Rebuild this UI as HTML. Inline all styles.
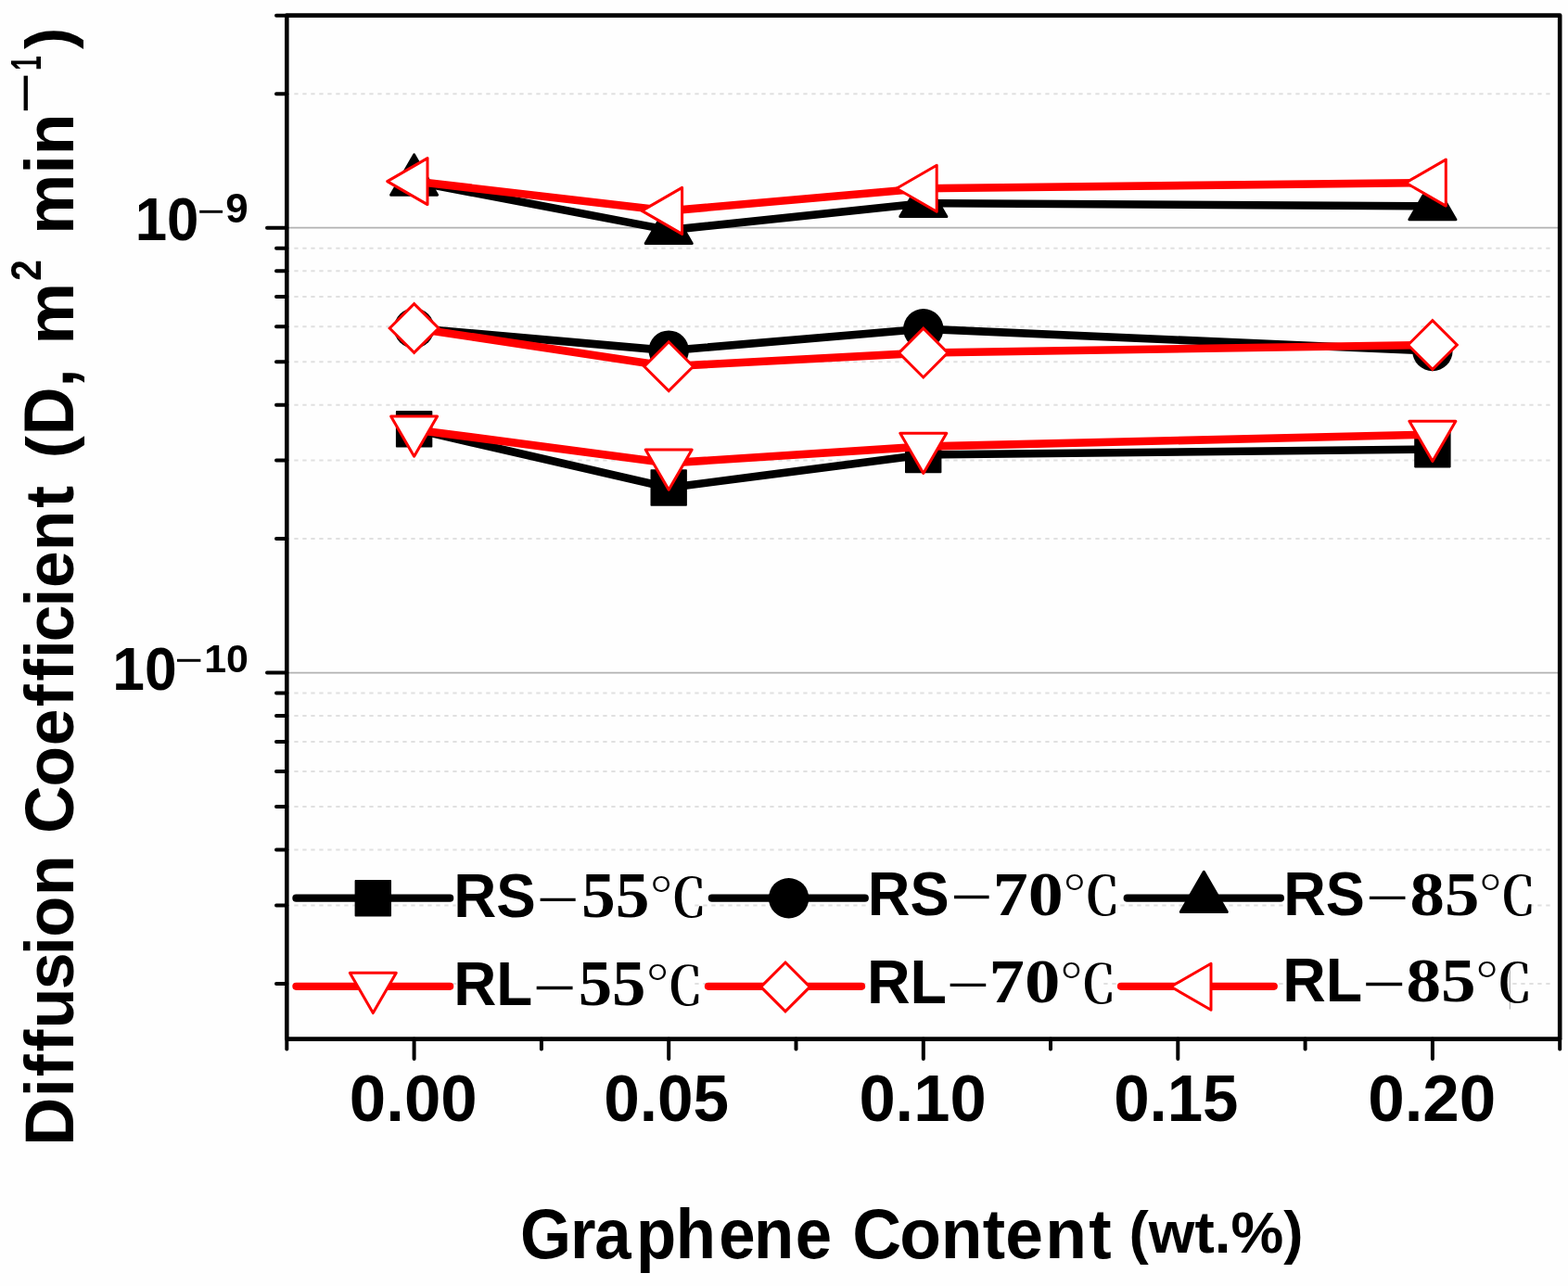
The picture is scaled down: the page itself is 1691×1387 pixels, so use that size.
<!DOCTYPE html>
<html lang="en"><head><meta charset="utf-8"><title>Diffusion Coefficient vs Graphene Content</title>
<style>
html,body{margin:0;padding:0;background:#fff;}
body{width:1691px;height:1387px;overflow:hidden;}
svg{display:block;}
text{font-family:"Liberation Sans",sans-serif;font-weight:bold;fill:#000;}
</style></head><body>
<svg width="1691" height="1387" viewBox="0 0 1691 1387">
<rect x="0" y="0" width="1691" height="1387" fill="#fefefe"/>
<g fill="none">
<line x1="309.3" x2="1682.2" y1="245.7" y2="245.7" stroke="#b2b2b2" stroke-width="1.7"/>
<line x1="309.3" x2="1682.2" y1="725.6" y2="725.6" stroke="#b2b2b2" stroke-width="1.7"/>
<line x1="317.3" x2="1674.7" y1="101.2" y2="101.2" stroke="#e0e0e0" stroke-width="2.0" stroke-dasharray="4.3 4.7"/>
<line x1="317.3" x2="1674.7" y1="581.1" y2="581.1" stroke="#e0e0e0" stroke-width="2.0" stroke-dasharray="4.3 4.7"/>
<line x1="317.3" x2="1674.7" y1="496.6" y2="496.6" stroke="#e0e0e0" stroke-width="2.0" stroke-dasharray="4.3 4.7"/>
<line x1="317.3" x2="1674.7" y1="436.7" y2="436.7" stroke="#e0e0e0" stroke-width="2.0" stroke-dasharray="4.3 4.7"/>
<line x1="317.3" x2="1674.7" y1="390.2" y2="390.2" stroke="#e0e0e0" stroke-width="2.0" stroke-dasharray="4.3 4.7"/>
<line x1="317.3" x2="1674.7" y1="352.2" y2="352.2" stroke="#e0e0e0" stroke-width="2.0" stroke-dasharray="4.3 4.7"/>
<line x1="317.3" x2="1674.7" y1="320.0" y2="320.0" stroke="#e0e0e0" stroke-width="2.0" stroke-dasharray="4.3 4.7"/>
<line x1="317.3" x2="1674.7" y1="292.2" y2="292.2" stroke="#e0e0e0" stroke-width="2.0" stroke-dasharray="4.3 4.7"/>
<line x1="317.3" x2="1674.7" y1="267.7" y2="267.7" stroke="#e0e0e0" stroke-width="2.0" stroke-dasharray="4.3 4.7"/>
<line x1="317.3" x2="1674.7" y1="1061.0" y2="1061.0" stroke="#e0e0e0" stroke-width="2.0" stroke-dasharray="4.3 4.7"/>
<line x1="317.3" x2="1674.7" y1="976.5" y2="976.5" stroke="#e0e0e0" stroke-width="2.0" stroke-dasharray="4.3 4.7"/>
<line x1="317.3" x2="1674.7" y1="916.6" y2="916.6" stroke="#e0e0e0" stroke-width="2.0" stroke-dasharray="4.3 4.7"/>
<line x1="317.3" x2="1674.7" y1="870.1" y2="870.1" stroke="#e0e0e0" stroke-width="2.0" stroke-dasharray="4.3 4.7"/>
<line x1="317.3" x2="1674.7" y1="832.1" y2="832.1" stroke="#e0e0e0" stroke-width="2.0" stroke-dasharray="4.3 4.7"/>
<line x1="317.3" x2="1674.7" y1="799.9" y2="799.9" stroke="#e0e0e0" stroke-width="2.0" stroke-dasharray="4.3 4.7"/>
<line x1="317.3" x2="1674.7" y1="772.1" y2="772.1" stroke="#e0e0e0" stroke-width="2.0" stroke-dasharray="4.3 4.7"/>
<line x1="317.3" x2="1674.7" y1="747.6" y2="747.6" stroke="#e0e0e0" stroke-width="2.0" stroke-dasharray="4.3 4.7"/>
</g>
<g stroke="#000" fill="none" stroke-linecap="round">
<rect x="309.3" y="16.6" width="1372.9" height="1104.0" stroke-width="4.6" stroke-linejoin="round"/>
<line x1="288.0" x2="309.3" y1="245.7" y2="245.7" stroke-width="4.0"/>
<line x1="288.0" x2="309.3" y1="725.6" y2="725.6" stroke-width="4.0"/>
<line x1="298.0" x2="309.3" y1="16.7" y2="16.7" stroke-width="4.0"/>
<line x1="298.0" x2="309.3" y1="101.2" y2="101.2" stroke-width="4.0"/>
<line x1="298.0" x2="309.3" y1="581.1" y2="581.1" stroke-width="4.0"/>
<line x1="298.0" x2="309.3" y1="496.6" y2="496.6" stroke-width="4.0"/>
<line x1="298.0" x2="309.3" y1="436.7" y2="436.7" stroke-width="4.0"/>
<line x1="298.0" x2="309.3" y1="390.2" y2="390.2" stroke-width="4.0"/>
<line x1="298.0" x2="309.3" y1="352.2" y2="352.2" stroke-width="4.0"/>
<line x1="298.0" x2="309.3" y1="320.0" y2="320.0" stroke-width="4.0"/>
<line x1="298.0" x2="309.3" y1="292.2" y2="292.2" stroke-width="4.0"/>
<line x1="298.0" x2="309.3" y1="267.7" y2="267.7" stroke-width="4.0"/>
<line x1="298.0" x2="309.3" y1="1061.0" y2="1061.0" stroke-width="4.0"/>
<line x1="298.0" x2="309.3" y1="976.5" y2="976.5" stroke-width="4.0"/>
<line x1="298.0" x2="309.3" y1="916.6" y2="916.6" stroke-width="4.0"/>
<line x1="298.0" x2="309.3" y1="870.1" y2="870.1" stroke-width="4.0"/>
<line x1="298.0" x2="309.3" y1="832.1" y2="832.1" stroke-width="4.0"/>
<line x1="298.0" x2="309.3" y1="799.9" y2="799.9" stroke-width="4.0"/>
<line x1="298.0" x2="309.3" y1="772.1" y2="772.1" stroke-width="4.0"/>
<line x1="298.0" x2="309.3" y1="747.6" y2="747.6" stroke-width="4.0"/>
<line x1="446.6" x2="446.6" y1="1120.6" y2="1142.1" stroke-width="4.0"/>
<line x1="721.2" x2="721.2" y1="1120.6" y2="1142.1" stroke-width="4.0"/>
<line x1="995.8" x2="995.8" y1="1120.6" y2="1142.1" stroke-width="4.0"/>
<line x1="1270.3" x2="1270.3" y1="1120.6" y2="1142.1" stroke-width="4.0"/>
<line x1="1544.9" x2="1544.9" y1="1120.6" y2="1142.1" stroke-width="4.0"/>
<line x1="309.3" x2="309.3" y1="1120.6" y2="1131.6" stroke-width="4.0"/>
<line x1="583.9" x2="583.9" y1="1120.6" y2="1131.6" stroke-width="4.0"/>
<line x1="858.5" x2="858.5" y1="1120.6" y2="1131.6" stroke-width="4.0"/>
<line x1="1133.0" x2="1133.0" y1="1120.6" y2="1131.6" stroke-width="4.0"/>
<line x1="1407.6" x2="1407.6" y1="1120.6" y2="1131.6" stroke-width="4.0"/>
<line x1="1682.2" x2="1682.2" y1="1120.6" y2="1131.6" stroke-width="4.0"/>
</g>
<g>
<polyline points="446.6,462.9 721.2,526.0 995.8,490.5 1544.9,484.6" fill="none" stroke="#000" stroke-width="8.6" stroke-linejoin="round" stroke-linecap="round"/>
<rect x="426.9" y="443.1" width="39.4" height="39.5" rx="0.8" fill="#000"/>
<rect x="701.5" y="506.2" width="39.4" height="39.5" rx="0.8" fill="#000"/>
<rect x="976.0" y="470.8" width="39.4" height="39.5" rx="0.8" fill="#000"/>
<rect x="1525.2" y="464.9" width="39.4" height="39.5" rx="0.8" fill="#000"/>
</g>
<g>
<polyline points="446.6,354.0 721.2,378.1 995.8,354.8 1544.9,378.5" fill="none" stroke="#000" stroke-width="8.6" stroke-linejoin="round" stroke-linecap="round"/>
<circle cx="446.6" cy="354.0" r="21.7" fill="#000"/>
<circle cx="721.2" cy="378.1" r="21.7" fill="#000"/>
<circle cx="995.8" cy="354.8" r="21.7" fill="#000"/>
<circle cx="1544.9" cy="378.5" r="21.7" fill="#000"/>
</g>
<g>
<polyline points="446.6,195.8 721.2,248.1 995.8,219.2 1544.9,222.4" fill="none" stroke="#000" stroke-width="8.6" stroke-linejoin="round" stroke-linecap="round"/>
<polygon points="446.6,166.9 471.6,210.2 421.6,210.2" fill="#000" stroke="#000" stroke-width="3.0" stroke-linejoin="round"/>
<polygon points="721.2,219.2 746.2,262.5 696.2,262.5" fill="#000" stroke="#000" stroke-width="3.0" stroke-linejoin="round"/>
<polygon points="995.8,190.3 1020.8,233.6 970.8,233.6" fill="#000" stroke="#000" stroke-width="3.0" stroke-linejoin="round"/>
<polygon points="1544.9,193.5 1569.9,236.8 1519.9,236.8" fill="#000" stroke="#000" stroke-width="3.0" stroke-linejoin="round"/>
</g>
<g>
<polyline points="446.6,463.4 721.2,499.4 995.8,481.6 1544.9,468.6" fill="none" stroke="#ff0000" stroke-width="8.6" stroke-linejoin="round" stroke-linecap="round"/>
<polygon points="421.6,449.0 471.6,449.0 446.6,492.3" fill="#fff" stroke="#ff0000" stroke-width="3.0" stroke-linejoin="round"/>
<polygon points="696.2,485.0 746.2,485.0 721.2,528.3" fill="#fff" stroke="#ff0000" stroke-width="3.0" stroke-linejoin="round"/>
<polygon points="970.8,467.2 1020.8,467.2 995.8,510.5" fill="#fff" stroke="#ff0000" stroke-width="3.0" stroke-linejoin="round"/>
<polygon points="1519.9,454.2 1569.9,454.2 1544.9,497.5" fill="#fff" stroke="#ff0000" stroke-width="3.0" stroke-linejoin="round"/>
</g>
<g>
<polyline points="446.6,354.0 721.2,395.2 995.8,380.6 1544.9,372.0" fill="none" stroke="#ff0000" stroke-width="8.6" stroke-linejoin="round" stroke-linecap="round"/>
<polygon points="420.2,354.0 446.6,327.6 473.0,354.0 446.6,380.4" fill="#fff" stroke="#ff0000" stroke-width="3.0" stroke-linejoin="miter"/>
<polygon points="694.8,395.2 721.2,368.8 747.6,395.2 721.2,421.6" fill="#fff" stroke="#ff0000" stroke-width="3.0" stroke-linejoin="miter"/>
<polygon points="969.4,380.6 995.8,354.2 1022.1,380.6 995.8,407.0" fill="#fff" stroke="#ff0000" stroke-width="3.0" stroke-linejoin="miter"/>
<polygon points="1518.5,372.0 1544.9,345.6 1571.3,372.0 1544.9,398.4" fill="#fff" stroke="#ff0000" stroke-width="3.0" stroke-linejoin="miter"/>
</g>
<g>
<polyline points="446.6,195.6 721.2,227.4 995.8,203.2 1544.9,197.1" fill="none" stroke="#ff0000" stroke-width="8.6" stroke-linejoin="round" stroke-linecap="round"/>
<polygon points="417.7,195.6 461.0,170.6 461.0,220.6" fill="#fff" stroke="#ff0000" stroke-width="3.0" stroke-linejoin="round"/>
<polygon points="692.3,227.4 735.6,202.4 735.6,252.4" fill="#fff" stroke="#ff0000" stroke-width="3.0" stroke-linejoin="round"/>
<polygon points="966.9,203.2 1010.2,178.2 1010.2,228.2" fill="#fff" stroke="#ff0000" stroke-width="3.0" stroke-linejoin="round"/>
<polygon points="1516.0,197.1 1559.3,172.1 1559.3,222.1" fill="#fff" stroke="#ff0000" stroke-width="3.0" stroke-linejoin="round"/>
</g>
<g>
<line x1="319.4" x2="485.2" y1="968.7" y2="968.7" stroke="#000" stroke-width="8.2" stroke-linecap="round"/>
<rect x="382.6" y="949.1" width="39.4" height="39.5" rx="0.8" fill="#000"/>
<line x1="319.4" x2="485.2" y1="1063.8" y2="1063.8" stroke="#ff0000" stroke-width="8.2" stroke-linecap="round"/>
<polygon points="377.3,1049.3 427.3,1049.3 402.3,1092.6" fill="#fff" stroke="#ff0000" stroke-width="3.0" stroke-linejoin="round"/>
<line x1="767.8" x2="932.8" y1="968.7" y2="968.7" stroke="#000" stroke-width="8.2" stroke-linecap="round"/>
<circle cx="850.6" cy="968.7" r="21.7" fill="#000"/>
<line x1="763.9" x2="929.1" y1="1063.8" y2="1063.8" stroke="#ff0000" stroke-width="8.2" stroke-linecap="round"/>
<polygon points="820.6,1064.4 847.0,1038.0 873.4,1064.4 847.0,1090.8" fill="#fff" stroke="#ff0000" stroke-width="3.0" stroke-linejoin="miter"/>
<line x1="1215.7" x2="1380.9" y1="968.7" y2="968.7" stroke="#000" stroke-width="8.2" stroke-linecap="round"/>
<polygon points="1298.3,940.3 1323.3,983.6 1273.3,983.6" fill="#000" stroke="#000" stroke-width="3.0" stroke-linejoin="round"/>
<line x1="1209.0" x2="1373.8" y1="1063.8" y2="1063.8" stroke="#ff0000" stroke-width="8.2" stroke-linecap="round"/>
<polygon points="1262.7,1064.2 1306.0,1039.2 1306.0,1089.2" fill="#fff" stroke="#ff0000" stroke-width="3.0" stroke-linejoin="round"/>
</g>
<g fill="#fefefe">
<rect x="491.6" y="938.4" width="255.0" height="56.8"/>
<rect x="492.6" y="1033.4" width="252.4" height="56.8"/>
<rect x="937.6" y="937.0" width="268.4" height="56.3"/>
<rect x="936.8" y="1031.6" width="253.2" height="56.3"/>
<rect x="1386.4" y="936.5" width="257.6" height="56.8"/>
<rect x="1385.6" y="1029.4" width="242.6" height="57.2"/>
</g>
<line x1="1628.3" x2="1628.3" y1="1044.7" y2="1088.5" stroke="#a0a0a0" stroke-width="0.9"/>
<g>
<text transform="translate(489.16,989.14) scale(0.9669,1)" font-size="65.92" style='font-family:"Liberation Sans",sans-serif;font-weight:bold;'>RS</text>
<text transform="translate(578.60,992.64) scale(1.2049,1)" font-size="68.00" style='font-family:"Liberation Serif",serif;font-weight:normal;'>−</text>
<text transform="translate(626.96,988.51) scale(1.0658,1)" font-size="68.87" style='font-family:"Liberation Serif",serif;font-weight:bold;'>55</text>
<text transform="translate(700.01,988.27) scale(1.1273,1)" font-size="55.64" style='font-family:"Liberation Serif","Noto Serif CJK SC",serif;font-weight:600;'>℃</text>
<text transform="translate(489.15,1083.80) scale(0.9695,1)" font-size="65.80" style='font-family:"Liberation Sans",sans-serif;font-weight:bold;'>RL</text>
<text transform="translate(574.42,1087.64) scale(1.2302,1)" font-size="68.00" style='font-family:"Liberation Serif",serif;font-weight:normal;'>−</text>
<text transform="translate(623.69,1083.51) scale(1.0580,1)" font-size="68.87" style='font-family:"Liberation Serif",serif;font-weight:bold;'>55</text>
<text transform="translate(695.91,1082.97) scale(1.1351,1)" font-size="55.26" style='font-family:"Liberation Serif","Noto Serif CJK SC",serif;font-weight:600;'>℃</text>
<text transform="translate(935.79,986.94) scale(0.9505,1)" font-size="66.48" style='font-family:"Liberation Sans",sans-serif;font-weight:bold;'>RS</text>
<text transform="translate(1024.96,990.24) scale(1.1891,1)" font-size="68.00" style='font-family:"Liberation Serif",serif;font-weight:normal;'>−</text>
<text transform="translate(1070.72,986.63) scale(1.1311,1)" font-size="67.11" style='font-family:"Liberation Serif",serif;font-weight:bold;'>70</text>
<text transform="translate(1145.81,986.26) scale(1.1247,1)" font-size="55.77" style='font-family:"Liberation Serif","Noto Serif CJK SC",serif;font-weight:600;'>℃</text>
<text transform="translate(934.91,1081.60) scale(0.9762,1)" font-size="66.09" style='font-family:"Liberation Sans",sans-serif;font-weight:bold;'>RL</text>
<text transform="translate(1020.55,1085.24) scale(1.2207,1)" font-size="68.00" style='font-family:"Liberation Serif",serif;font-weight:normal;'>−</text>
<text transform="translate(1066.58,1081.23) scale(1.1443,1)" font-size="67.11" style='font-family:"Liberation Serif",serif;font-weight:bold;'>70</text>
<text transform="translate(1142.58,1080.67) scale(1.1128,1)" font-size="55.51" style='font-family:"Liberation Serif","Noto Serif CJK SC",serif;font-weight:600;'>℃</text>
<text transform="translate(1384.20,986.94) scale(0.9494,1)" font-size="66.48" style='font-family:"Liberation Sans",sans-serif;font-weight:bold;'>RS</text>
<text transform="translate(1472.75,990.54) scale(1.2207,1)" font-size="68.00" style='font-family:"Liberation Serif",serif;font-weight:normal;'>−</text>
<text transform="translate(1520.58,986.62) scale(1.1030,1)" font-size="67.85" style='font-family:"Liberation Serif",serif;font-weight:bold;'>85</text>
<text transform="translate(1594.21,986.26) scale(1.1247,1)" font-size="55.77" style='font-family:"Liberation Serif","Noto Serif CJK SC",serif;font-weight:600;'>℃</text>
<text transform="translate(1383.31,1080.20) scale(0.9708,1)" font-size="66.38" style='font-family:"Liberation Sans",sans-serif;font-weight:bold;'>RL</text>
<text transform="translate(1468.91,1083.54) scale(1.2334,1)" font-size="68.00" style='font-family:"Liberation Serif",serif;font-weight:normal;'>−</text>
<text transform="translate(1516.47,1079.92) scale(1.0981,1)" font-size="68.44" style='font-family:"Liberation Serif",serif;font-weight:bold;'>85</text>
<text transform="translate(1590.51,1079.66) scale(1.1247,1)" font-size="55.77" style='font-family:"Liberation Serif","Noto Serif CJK SC",serif;font-weight:600;'>℃</text>
</g>
<g>
<text transform="translate(376.87,1208.59) scale(0.9939,1)" font-size="71.27" style='font-family:"Liberation Sans",sans-serif;font-weight:bold;'>0.00</text>
<text transform="translate(651.13,1208.59) scale(0.9725,1)" font-size="71.27" style='font-family:"Liberation Sans",sans-serif;font-weight:bold;'>0.05</text>
<text transform="translate(926.38,1208.59) scale(0.9901,1)" font-size="71.27" style='font-family:"Liberation Sans",sans-serif;font-weight:bold;'>0.10</text>
<text transform="translate(1201.14,1208.59) scale(0.9688,1)" font-size="71.27" style='font-family:"Liberation Sans",sans-serif;font-weight:bold;'>0.15</text>
<text transform="translate(1475.16,1208.59) scale(0.9961,1)" font-size="71.27" style='font-family:"Liberation Sans",sans-serif;font-weight:bold;'>0.20</text>
</g>
<g>
<text transform="translate(145.68,258.96) scale(0.9600,1)" font-size="64.37" style='font-family:"Liberation Sans",sans-serif;font-weight:bold;'>10</text>
<text transform="translate(212.62,247.70) scale(0.8925,1)" font-size="60.00" style='font-family:"Liberation Serif",serif;font-weight:normal;'>−</text>
<text transform="translate(243.36,240.36) scale(1.0059,1)" font-size="43.66" style='font-family:"Liberation Sans",sans-serif;font-weight:bold;'>9</text>
<text transform="translate(121.34,744.15) scale(0.9588,1)" font-size="65.07" style='font-family:"Liberation Sans",sans-serif;font-weight:bold;'>10</text>
<text transform="translate(188.37,732.40) scale(0.9104,1)" font-size="60.00" style='font-family:"Liberation Serif",serif;font-weight:normal;'>−</text>
<text transform="translate(220.21,724.77) scale(0.9941,1)" font-size="43.24" style='font-family:"Liberation Sans",sans-serif;font-weight:bold;'>10</text>
</g>
<g>
<text transform="translate(0,1357.00) scale(0.9331,1)" x="601.15 659.22 687.24 735.26 781.05 830.74 871.37 919.21" font-size="75.80" style='font-family:"Liberation Sans",sans-serif;font-weight:bold;'>Graphene</text>
<text transform="translate(0,1357.00) scale(0.9654,1)" x="952.24 1004.99 1051.10 1097.85 1123.10 1167.79 1216.34" font-size="75.80" style='font-family:"Liberation Sans",sans-serif;font-weight:bold;'>Content</text>
<text transform="translate(1217.51,1350.83) scale(1.0104,1)" font-size="63.21" style='font-family:"Liberation Sans",sans-serif;font-weight:bold;'>(wt.%)</text>
</g>
<g>
<text transform="translate(78.90,0) rotate(-90) scale(0.9650,1)" x="-1280.55 -1226.28 -1203.38 -1175.71 -1149.73 -1105.92 -1067.63 -1047.49 -1001.20" font-size="74.60" style='font-family:"Liberation Sans",sans-serif;font-weight:bold;'>Diffusion</text>
<text transform="translate(78.90,0) rotate(-90) scale(0.9577,1)" x="-938.80 -885.95 -839.77 -795.80 -767.19 -741.32 -722.75 -683.32 -662.10 -620.56 -572.03" font-size="74.60" style='font-family:"Liberation Sans",sans-serif;font-weight:bold;'>Coefficient</text>
<text transform="translate(76.56,494.32) rotate(-90) scale(1.0542,1)" font-size="68.77" style='font-family:"Liberation Sans",sans-serif;font-weight:bold;'>(</text>
<text transform="translate(78.90,469.37) rotate(-90) scale(0.9528,1)" font-size="75.40" style='font-family:"Liberation Sans",sans-serif;font-weight:bold;'>D,</text>
<text transform="translate(78.90,371.69) rotate(-90) scale(1.0296,1)" font-size="73.10" style='font-family:"Liberation Sans",sans-serif;font-weight:bold;'>m</text>
<text transform="translate(43.50,303.04) rotate(-90) scale(0.8894,1)" font-size="46.14" style='font-family:"Liberation Sans",sans-serif;font-weight:bold;'>2</text>
<text transform="translate(78.90,252.66) rotate(-90) scale(0.9814,1)" font-size="74.60" style='font-family:"Liberation Sans",sans-serif;font-weight:bold;'>min</text>
<text transform="translate(57.24,122.93) rotate(-90) scale(0.9164,1)" font-size="88.00" style='font-family:"Liberation Serif",serif;font-weight:normal;'>−</text>
<text transform="translate(43.50,75.96) rotate(-90) scale(0.6110,1)" font-size="46.81" style='font-family:"Liberation Sans",sans-serif;font-weight:bold;'>1</text>
<text transform="translate(76.21,52.95) rotate(-90) scale(1.0147,1)" font-size="68.98" style='font-family:"Liberation Sans",sans-serif;font-weight:bold;'>)</text>
</g>
</svg></body></html>
